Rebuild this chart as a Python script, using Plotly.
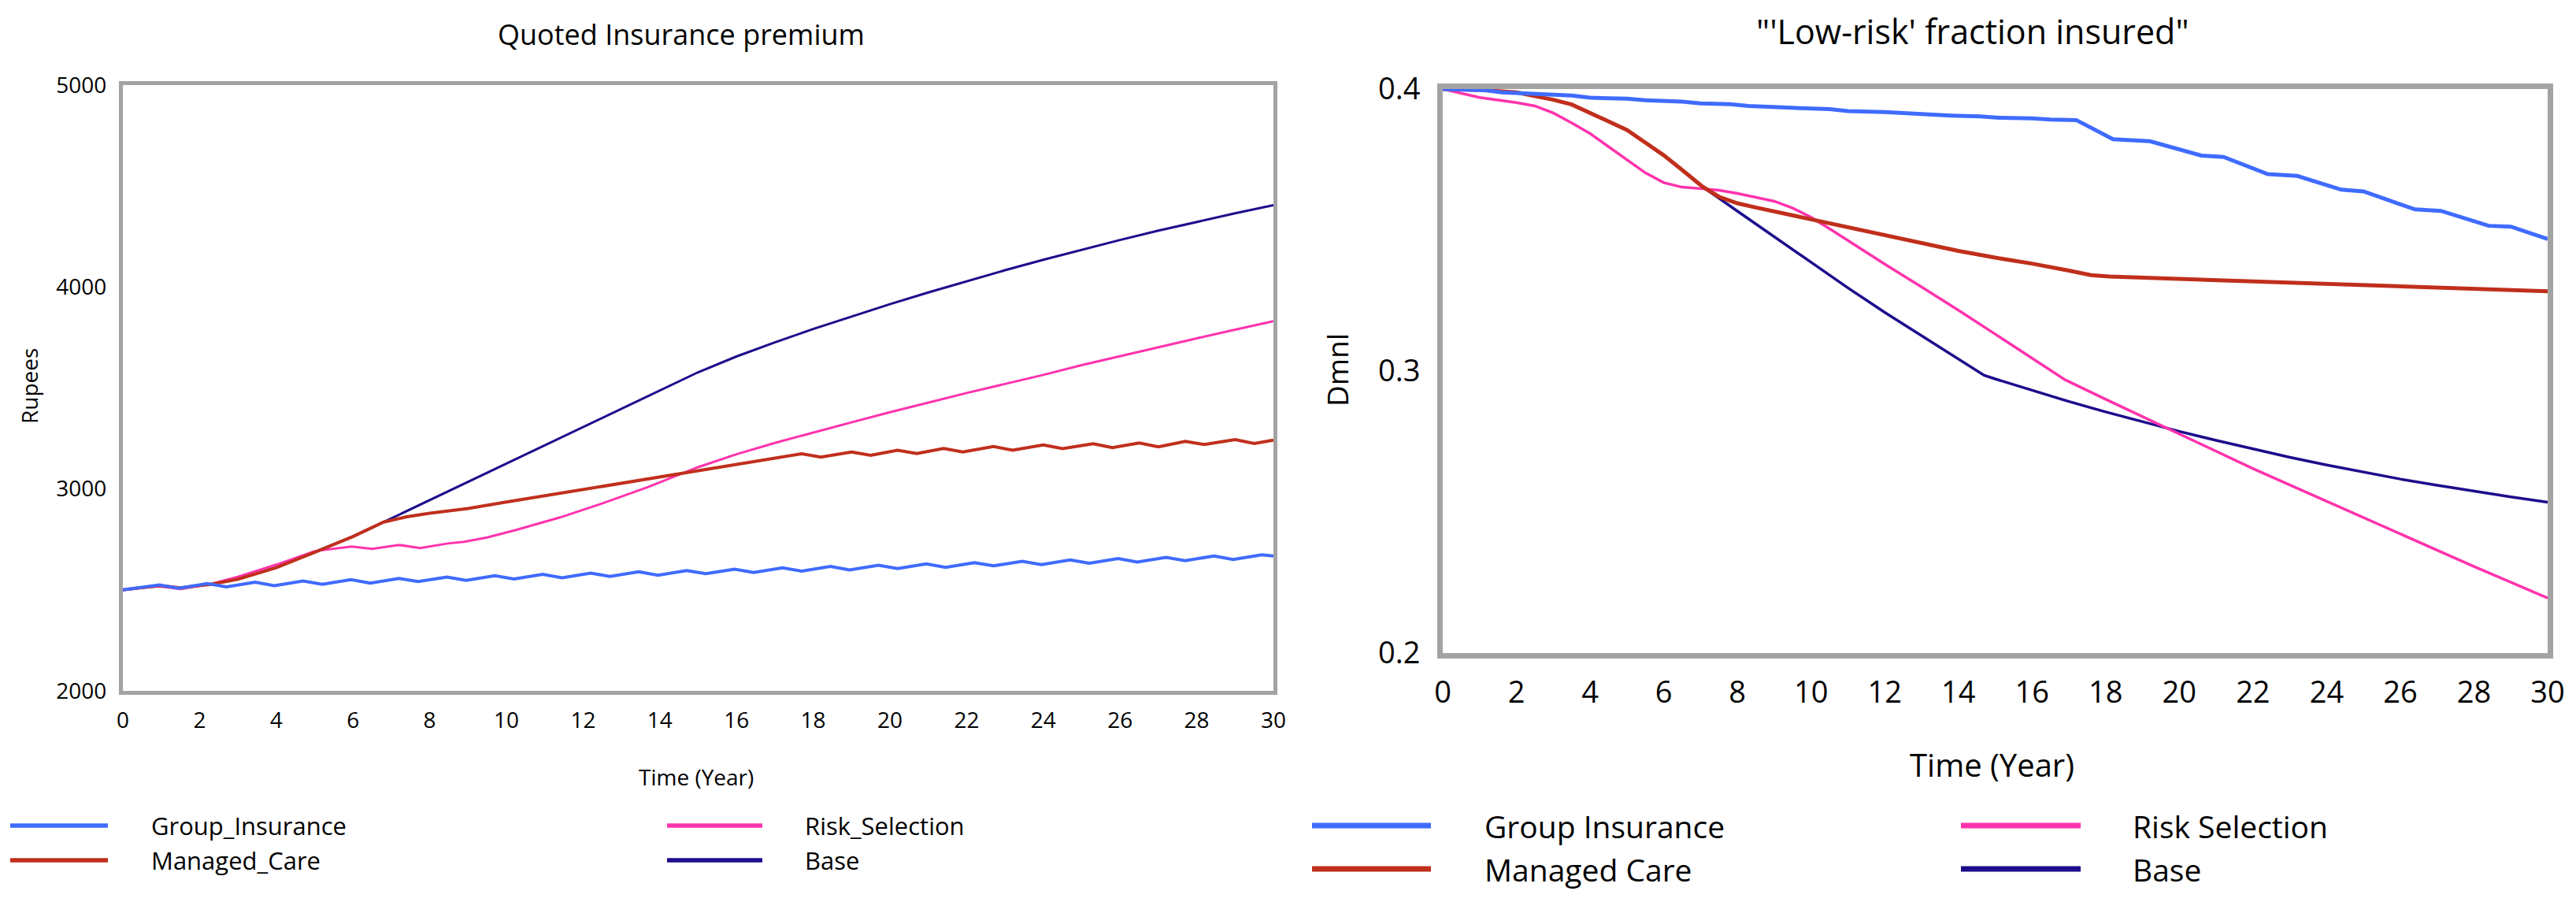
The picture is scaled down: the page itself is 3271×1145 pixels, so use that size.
import plotly.graph_objects as go

PAGE_W, PAGE_H = 3271, 1145
OFF = 8  # default body margin of the HTML page
W, H = PAGE_W - 2 * OFF, PAGE_H - 2 * OFF

# ---------------- Left chart: Quoted Insurance premium (Rupees) ----------------
grp_t = [0, 0.95, 1.45, 2.2, 2.7, 3.45, 3.95, 4.7, 5.2, 5.95, 6.45, 7.2, 7.7, 8.45, 8.95,
         9.7, 10.2, 10.95, 11.45, 12.2, 12.7, 13.45, 13.95, 14.7, 15.2, 15.95, 16.45,
         17.2, 17.7, 18.45, 18.95, 19.7, 20.2, 20.95, 21.45, 22.2, 22.7, 23.45, 23.95,
         24.7, 25.2, 25.95, 26.45, 27.2, 27.7, 28.45, 28.95, 29.7, 30]
grp_v = [2500, 2525, 2508, 2531, 2515, 2538, 2521, 2544, 2528, 2551, 2534, 2557, 2541, 2564, 2547,
         2570, 2554, 2577, 2560, 2583, 2567, 2590, 2573, 2596, 2580, 2603, 2586,
         2609, 2593, 2616, 2599, 2622, 2606, 2629, 2612, 2635, 2619, 2642, 2625,
         2648, 2632, 2655, 2638, 2661, 2645, 2668, 2651, 2674, 2668]

mc_t = [0, 0.95, 1.5, 2.3, 3, 4, 5, 6, 6.8, 7.4, 8, 9, 10, 11, 12, 13, 14, 15, 16, 17,
        17.7, 18.2, 19.0, 19.5, 20.2, 20.7, 21.4, 21.9, 22.7, 23.2, 24.0, 24.5, 25.3, 25.8,
        26.5, 27.0, 27.7, 28.2, 29.0, 29.5, 30]
mc_v = [2500, 2522, 2510, 2528, 2553, 2610, 2686, 2764, 2836, 2862, 2880, 2903, 2935, 2966, 2996,
        3028, 3060, 3092, 3122, 3152,
        3174, 3158, 3183, 3167, 3192, 3175, 3200, 3183, 3210, 3192, 3218, 3200, 3224, 3205,
        3228, 3209, 3236, 3220, 3244, 3225, 3242]

rs_t = [0, 0.95, 1.5, 2.3, 3, 4, 5, 5.96, 6.5, 7.2, 7.75, 8.47, 8.9, 9.5, 10.25, 11.4, 12.45,
        13.7, 15, 16, 17, 18, 19, 20, 21, 22, 23, 24, 25, 26, 27, 28, 29, 30]
rs_v = [2500, 2518, 2504, 2530, 2565, 2625, 2692, 2715, 2703, 2723, 2707, 2730, 2738, 2760, 2797,
        2859, 2925, 3010, 3108, 3172, 3228, 3280, 3330, 3380, 3428, 3475, 3520, 3565, 3613,
        3658, 3702, 3746, 3789, 3831]

base_t = [0, 0.95, 1.5, 2.3, 3, 4, 5, 6, 6.8, 8, 9, 10, 11, 12, 13, 14, 15, 16, 17, 18, 19, 20,
          21, 22, 23, 24, 25, 26, 27, 28, 29, 30]
base_v = [2500, 2522, 2510, 2528, 2555, 2612, 2688, 2765, 2836, 2945, 3035, 3126, 3216, 3307,
          3398, 3490, 3578, 3656, 3726, 3792, 3855, 3915, 3973, 4029, 4083, 4135, 4185, 4233,
          4279, 4323, 4365, 4405]

# ---------------- Right chart: "'Low-risk' fraction insured" (Dmnl) ----------------
grp2_t = [0, 1.2, 1.6, 2.5, 3.0, 3.5, 4.0, 5.0, 5.5, 6.5, 7.0, 7.8, 8.3, 9.2, 9.7, 10.5, 11.0,
          12.0, 12.5, 13.3, 13.8, 14.6, 15.1, 16.0, 16.5, 17.2, 18.2, 19.2, 20.6, 21.2, 22.4,
          23.2, 24.4, 25.0, 26.4, 27.1, 28.4, 29.0, 30]
grp2_v = [0.4, 0.3995, 0.3988, 0.3984, 0.3979, 0.3977, 0.3969, 0.3966, 0.3960, 0.3955, 0.3949,
          0.3946, 0.3940, 0.3937, 0.3932, 0.3929, 0.3922, 0.3918, 0.3914, 0.3911, 0.3906, 0.3903,
          0.3898, 0.3896, 0.3892, 0.3890, 0.3822, 0.3815, 0.3764, 0.3759, 0.3698, 0.3692, 0.3643,
          0.3637, 0.3573, 0.3568, 0.3515, 0.3512, 0.3468]

mc2_t = [0, 1, 2, 2.5, 3, 3.5, 4, 4.5, 5, 5.5, 6, 6.5, 7.06, 7.5, 8, 8.5, 9, 10, 11, 12, 13, 14,
         15, 16, 17, 17.6, 18.1, 19, 20, 21, 22, 23, 24, 25, 26, 27, 28, 29, 30]
mc2_v = [0.4, 0.3997, 0.3988, 0.3976, 0.3962, 0.3945, 0.3915, 0.3885, 0.3855, 0.3810, 0.3765,
         0.3713, 0.3653, 0.3618, 0.3595, 0.3580, 0.3566, 0.3537, 0.3510, 0.3483, 0.3455, 0.3426,
         0.3402, 0.3381, 0.3356, 0.3340, 0.3335, 0.3331, 0.3327, 0.3323, 0.3319, 0.3314, 0.3308,
         0.3303, 0.3299, 0.3295, 0.3291, 0.3287, 0.3283]

rs2_t = [0, 1, 2, 2.5, 3, 3.5, 4, 4.5, 5, 5.5, 6, 6.5, 7, 7.5, 8, 8.5, 9, 9.5, 10, 10.5, 11, 11.5,
         12, 13, 14, 15, 16, 16.9, 18, 19, 20, 21, 22, 23, 24, 25, 26, 27, 28, 29, 30]
rs2_v = [0.4, 0.3970, 0.3952, 0.3940, 0.3915, 0.3880, 0.3842, 0.3795, 0.3747, 0.3703, 0.3668,
         0.3652, 0.3647, 0.3641, 0.3630, 0.3617, 0.3602, 0.3578, 0.3545, 0.3505, 0.3463, 0.3421,
         0.3379, 0.3298, 0.3216, 0.3131, 0.3046, 0.2969, 0.2900, 0.2838, 0.2776, 0.2714, 0.2654,
         0.2596, 0.2538, 0.2480, 0.2422, 0.2364, 0.2307, 0.2251, 0.2195]

base2_t = [0, 1, 2, 2.5, 3, 3.5, 4, 4.5, 5, 5.5, 6, 6.5, 7.06, 8, 9, 10, 11, 12, 13, 14, 14.7,
           15, 16, 17, 18, 19, 20, 21, 22, 23, 24, 25, 26, 27, 28, 29, 30]
base2_v = [0.4, 0.3997, 0.3988, 0.3976, 0.3962, 0.3945, 0.3915, 0.3885, 0.3855, 0.3810, 0.3765,
           0.3713, 0.3653, 0.3567, 0.3476, 0.3386, 0.3295, 0.3208, 0.3125, 0.3043, 0.2985,
           0.2972, 0.2931, 0.2892, 0.2855, 0.2820, 0.2786, 0.2754, 0.2723, 0.2694, 0.2667,
           0.2641, 0.2617, 0.2595, 0.2574, 0.2554, 0.2535]

x_ticks = list(range(0, 31, 2))
left_y_ticks = [2000, 3000, 4000, 5000]
right_y_ticks = [0.2, 0.3, 0.4]
right_y_text = ["0.2", "0.3", "0.4"]

left_names = ["Group_Insurance", "Managed_Care", "Risk_Selection", "Base"]
right_names = ["Group Insurance", "Managed Care", "Risk Selection", "Base"]
left_title = "Quoted Insurance premium"
right_title = "\"'Low-risk' fraction insured\""

# ---------------- styling ----------------
C_BLUE = "#3f6bff"
C_RED = "#c02f1c"
C_PINK = "#ff33ad"
C_NAVY = "#1c0d8c"
FONT = "Open Sans"
BORDER = "#a3a3a3"


def px(x):
    return (x - OFF) / W


def py(y):
    return 1 - (y - OFF) / H


fig = go.Figure()

left_series = [(grp_t, grp_v, C_BLUE, 4), (mc_t, mc_v, C_RED, 4),
               (rs_t, rs_v, C_PINK, 3), (base_t, base_v, C_NAVY, 3)]
right_series = [(grp2_t, grp2_v, C_BLUE, 5), (mc2_t, mc2_v, C_RED, 5),
                (rs2_t, rs2_v, C_PINK, 3.5), (base2_t, base2_v, C_NAVY, 3.5)]

# draw order: Base, Risk Selection, Managed Care, Group Insurance (last on top)
draw_order = [3, 2, 1, 0]
for i in draw_order:
    t, v, c, w = left_series[i]
    fig.add_trace(go.Scatter(x=t, y=v, mode="lines", name=left_names[i], showlegend=False,
                             line=dict(color=c, width=w), xaxis="x", yaxis="y"))
for i in draw_order:
    t, v, c, w = right_series[i]
    fig.add_trace(go.Scatter(x=t, y=v, mode="lines", name=right_names[i], showlegend=False,
                             line=dict(color=c, width=w), xaxis="x2", yaxis="y2"))

L = dict(x0=156, x1=1617, y0=108, y1=877)
R = dict(x0=1832, x1=3235, y0=113, y1=829)

common = dict(showgrid=False, zeroline=False, showline=True, mirror=True, linecolor=BORDER,
              ticks="", fixedrange=True, automargin=False)

fig.update_layout(
    template="none",
    width=W, height=H, autosize=False,
    margin=dict(l=0, r=0, t=0, b=0, pad=0, autoexpand=False),
    paper_bgcolor="white", plot_bgcolor="white",
    font=dict(family=FONT, color="black"),
    showlegend=False,
    xaxis=dict(domain=[px(L["x0"]), px(L["x1"])], range=[0, 30], tickvals=x_ticks,
               tickfont=dict(size=28, family=FONT, color="black"), linewidth=5,
               anchor="y", ticklabelstandoff=8, **common),
    yaxis=dict(domain=[py(L["y1"]), py(L["y0"])], range=[2000, 5000], tickvals=left_y_ticks,
               tickfont=dict(size=28, family=FONT, color="black"), linewidth=5,
               anchor="x", ticklabelstandoff=10, **common),
    xaxis2=dict(domain=[px(R["x0"]), px(R["x1"])], range=[0, 30], tickvals=x_ticks,
                tickfont=dict(size=38, family=FONT, color="black"), linewidth=7,
                anchor="y2", ticklabelstandoff=10, **common),
    yaxis2=dict(domain=[py(R["y1"]), py(R["y0"])], range=[0.2, 0.4], tickvals=right_y_ticks,
                ticktext=right_y_text, tickfont=dict(size=38, family=FONT, color="black"),
                linewidth=7, anchor="x2", ticklabelstandoff=14, **common),
)

annos = [
    dict(text=left_title, x=px(865), y=py(43), size=36, angle=0),
    dict(text=right_title, x=px(2505), y=py(40), size=43, angle=0),
    dict(text="Time (Year)", x=px(884), y=py(986), size=28, angle=0),
    dict(text="Time (Year)", x=px(2529), y=py(970), size=40, angle=0),
    dict(text="Rupees", x=px(37), y=py(490), size=28, angle=-90),
    dict(text="Dmnl", x=px(1697), y=py(470), size=37, angle=-90),
]
for a in annos:
    fig.add_annotation(text=a["text"], x=a["x"], y=a["y"], xref="paper", yref="paper",
                       xanchor="center", yanchor="middle", showarrow=False, borderpad=0,
                       textangle=a["angle"], font=dict(size=a["size"], family=FONT, color="black"))

# manual legends (2 columns x 2 rows each)
colors = [C_BLUE, C_RED, C_PINK, C_NAVY]
left_slots = [(13, 137, 190, 1048), (13, 137, 190, 1092), (847, 968, 1020, 1048), (847, 968, 1020, 1092)]
right_slots = [(1666, 1817, 1883, 1048), (1666, 1817, 1883, 1103), (2490, 2642, 2706, 1048),
               (2490, 2642, 2706, 1103)]
for names, slots, lw, fs in [(left_names, left_slots, 5.5, 31), (right_names, right_slots, 7, 39)]:
    for name, (lx0, lx1, tx, yy), c in zip(names, slots, colors):
        fig.add_shape(type="line", xref="paper", yref="paper", x0=px(lx0), x1=px(lx1),
                      y0=py(yy), y1=py(yy), line=dict(color=c, width=lw))
        fig.add_annotation(text=name, x=px(tx), y=py(yy), xref="paper", yref="paper",
                           xanchor="left", yanchor="middle", showarrow=False,
                           font=dict(size=fs, family=FONT, color="black"))

fig.write_html("out.html")
